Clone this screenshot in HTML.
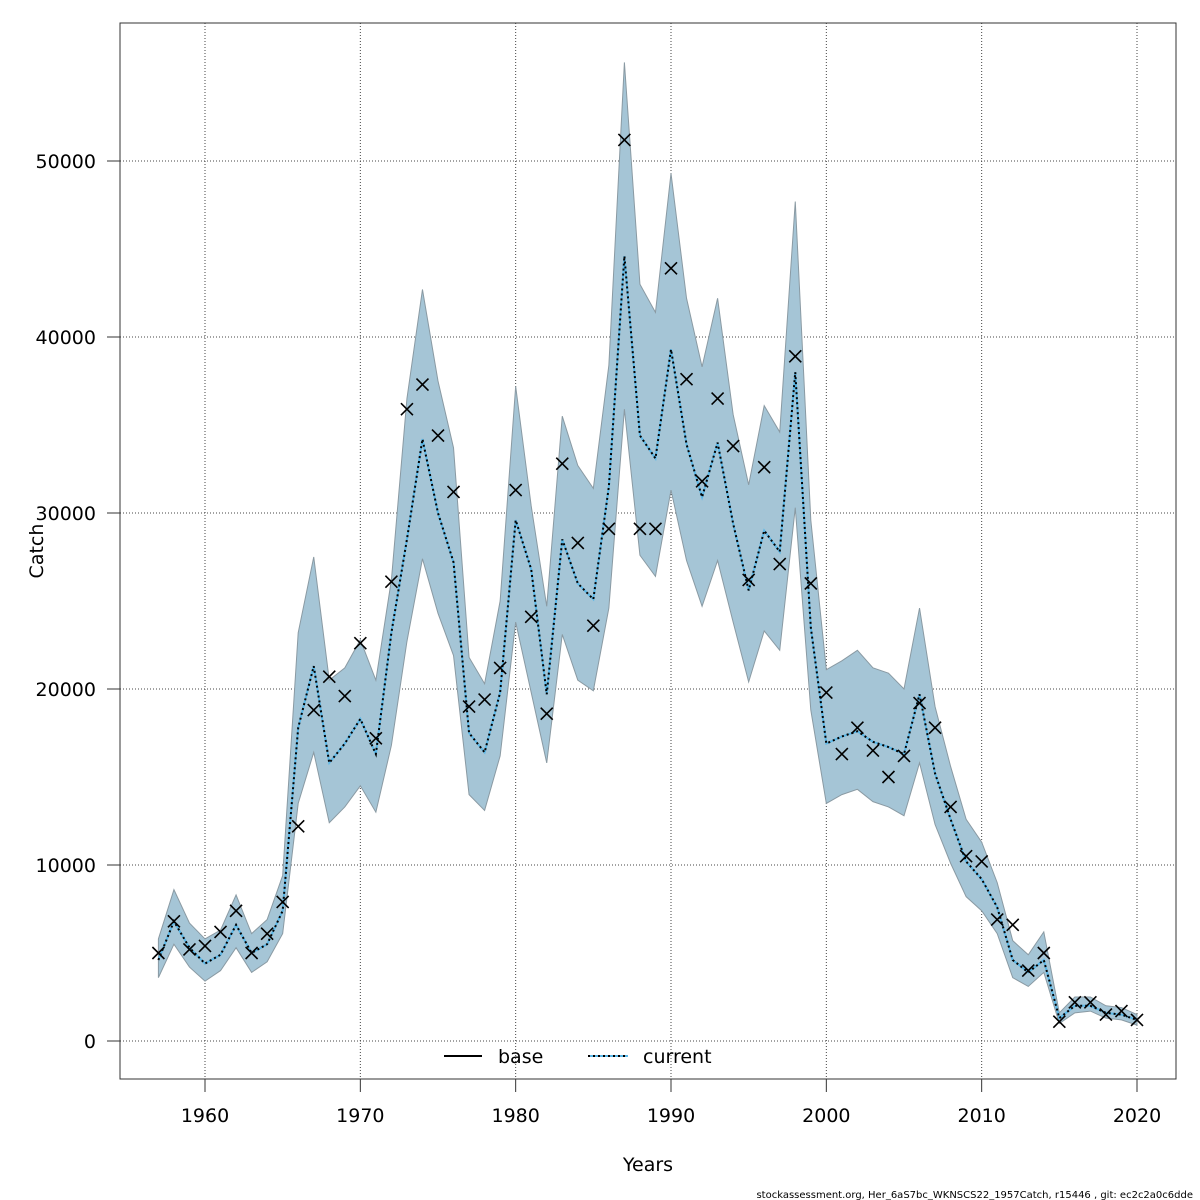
<!DOCTYPE html>
<html><head><meta charset="utf-8"><style>
body{margin:0;background:#fff;}
svg{display:block;font-family:"DejaVu Sans","Liberation Sans",sans-serif;}
</style></head><body>
<svg id="chart" width="1200" height="1200" xmlns="http://www.w3.org/2000/svg">
<rect width="1200" height="1200" fill="#fff"/>
<g id="grid"></g>
<g id="marks"></g>
<rect x="120" y="23" width="1056" height="1056" fill="none" stroke="#333" stroke-width="1"/>
<g id="axes"></g>
<text x="648" y="1171" font-size="19" text-anchor="middle">Years</text>
<text x="43" y="551" font-size="19" text-anchor="middle" transform="rotate(-90 43 551)">Catch</text>
<g>
<g>
<line x1="444" y1="1056" x2="482" y2="1056" stroke="#000" stroke-width="2"/>
<text x="498" y="1063" font-size="19">base</text></g>
<g>
<line x1="588" y1="1056" x2="628" y2="1056" stroke="#5bb8e8" stroke-width="2"/>
<line x1="588" y1="1056" x2="628" y2="1056" stroke="#000" stroke-width="2" stroke-dasharray="2,3"/>
<text x="643" y="1063" font-size="19">current</text></g>
</g>
<text x="1193" y="1198" font-size="10" text-anchor="end">stockassessment.org, Her_6aS7bc_WKNSCS22_1957Catch, r15446 , git: ec2c2a0c6dde</text>
</svg>
<script>
const years=[];for(let y=1957;y<=2020;y++)years.push(y);
const observed=[5.0,6.8,5.2,5.4,6.2,7.4,5.0,6.1,7.9,12.2,18.8,20.7,19.6,22.6,17.2,26.1,35.9,37.3,34.4,31.2,19.0,19.4,21.2,31.3,24.1,18.6,32.8,28.3,23.6,29.1,51.2,29.1,29.1,43.9,37.6,31.8,36.5,33.8,26.2,32.6,27.1,38.9,26.0,19.8,16.3,17.8,16.5,15.0,16.2,19.2,17.8,13.3,10.5,10.2,6.9,6.6,4.0,5.0,1.1,2.2,2.2,1.5,1.7,1.2];
const estimate=[4.6,6.8,5.3,4.4,4.9,6.6,5.0,5.5,7.4,17.8,21.3,15.8,16.9,18.3,16.3,23.2,28.5,34.2,30.0,27.2,17.5,16.4,19.8,29.6,26.8,19.7,28.5,26.0,25.1,31.5,44.6,34.4,33.1,39.3,33.9,30.9,34.0,29.4,25.6,29.0,27.8,38.0,23.5,16.9,17.3,17.6,17.0,16.7,16.3,19.7,15.2,12.6,10.2,9.2,7.6,4.6,3.9,4.6,1.3,2.0,2.0,1.6,1.5,1.2];
const upper=[5.8,8.6,6.7,5.8,6.3,8.3,6.1,6.9,9.4,23.2,27.5,20.5,21.2,22.8,20.5,26.2,36.5,42.7,37.5,33.7,21.8,20.3,25.0,37.2,30.4,24.7,35.5,32.7,31.4,38.4,55.6,43.0,41.4,49.3,42.2,38.3,42.2,35.6,31.6,36.1,34.6,47.7,29.6,21.1,21.6,22.2,21.2,20.9,20.0,24.6,19.0,15.6,12.6,11.3,9.0,5.7,4.9,6.2,1.6,2.5,2.5,2.0,1.9,1.5];
const lower=[3.6,5.5,4.2,3.4,4.0,5.3,3.9,4.5,6.1,13.5,16.4,12.4,13.3,14.5,13.0,16.8,22.7,27.4,24.3,21.9,14.0,13.1,16.2,23.8,19.8,15.8,23.1,20.5,19.9,24.6,35.9,27.6,26.4,31.3,27.3,24.7,27.3,23.8,20.4,23.3,22.2,30.3,18.8,13.5,14.0,14.3,13.6,13.3,12.8,15.8,12.3,10.1,8.2,7.4,6.1,3.6,3.1,3.9,1.0,1.6,1.7,1.3,1.2,0.9];
const xTicks=[1960,1970,1980,1990,2000,2010,2020];
const yTicks=[0,10000,20000,30000,40000,50000];
const NS='http://www.w3.org/2000/svg';
function X(yr){return 205+(yr-1960)*(1137-205)/60;}
function Y(v){return 1041-v*(1041-161)/50000;}
function mk(tag,attrs,parent){const e=document.createElementNS(NS,tag);for(const k in attrs)e.setAttribute(k,attrs[k]);parent.appendChild(e);return e;}
const grid=document.getElementById('grid'),marks=document.getElementById('marks'),axes=document.getElementById('axes');
xTicks.forEach(t=>{
 const l=mk('line',{x1:X(t),x2:X(t),y1:23,y2:1079,stroke:'#444','stroke-width':1,'stroke-dasharray':'1,2'},grid);
 
 
 const tk=mk('line',{x1:X(t),x2:X(t),y1:1079,y2:1092,stroke:'#333'},axes);
 
 
 const tx=mk('text',{x:X(t),y:1122,'font-size':19,'text-anchor':'middle'},axes);
 tx.textContent=t;
 
 
});
yTicks.forEach(t=>{
 const l=mk('line',{x1:120,x2:1176,y1:Y(t),y2:Y(t),stroke:'#444','stroke-width':1,'stroke-dasharray':'1,2'},grid);
 
 
 const tk=mk('line',{x1:107,x2:120,y1:Y(t),y2:Y(t),stroke:'#333'},axes);
 
 
 const tx=mk('text',{x:96,y:Y(t)+7,'font-size':19,'text-anchor':'end'},axes);
 tx.textContent=t;
 
 
});
let d='';
years.forEach((yr,i)=>{d+=(i?'L':'M')+X(yr)+','+Y(upper[i]*1000);});
for(let i=years.length-1;i>=0;i--)d+='L'+X(years[i])+','+Y(lower[i]*1000);
const band=mk('path',{d:d+'Z',fill:'#a5c5d6',stroke:'#8a9aa3','stroke-width':1},marks);


const pts=years.map((yr,i)=>X(yr)+','+Y(estimate[i]*1000)).join(' ');
const lb=mk('polyline',{points:pts,fill:'none',stroke:'#5bb8e8','stroke-width':2},marks);


const ld=mk('polyline',{points:pts,fill:'none',stroke:'#000','stroke-width':2,'stroke-dasharray':'2,3'},marks);


years.forEach((yr,i)=>{
 const cx=X(yr),cy=Y(observed[i]*1000),s=6;
 const p=mk('path',{d:`M${cx-s},${cy-s}L${cx+s},${cy+s}M${cx-s},${cy+s}L${cx+s},${cy-s}`,stroke:'#000','stroke-width':1.6,fill:'none'},marks);
 
 
});
</script>
</body></html>
